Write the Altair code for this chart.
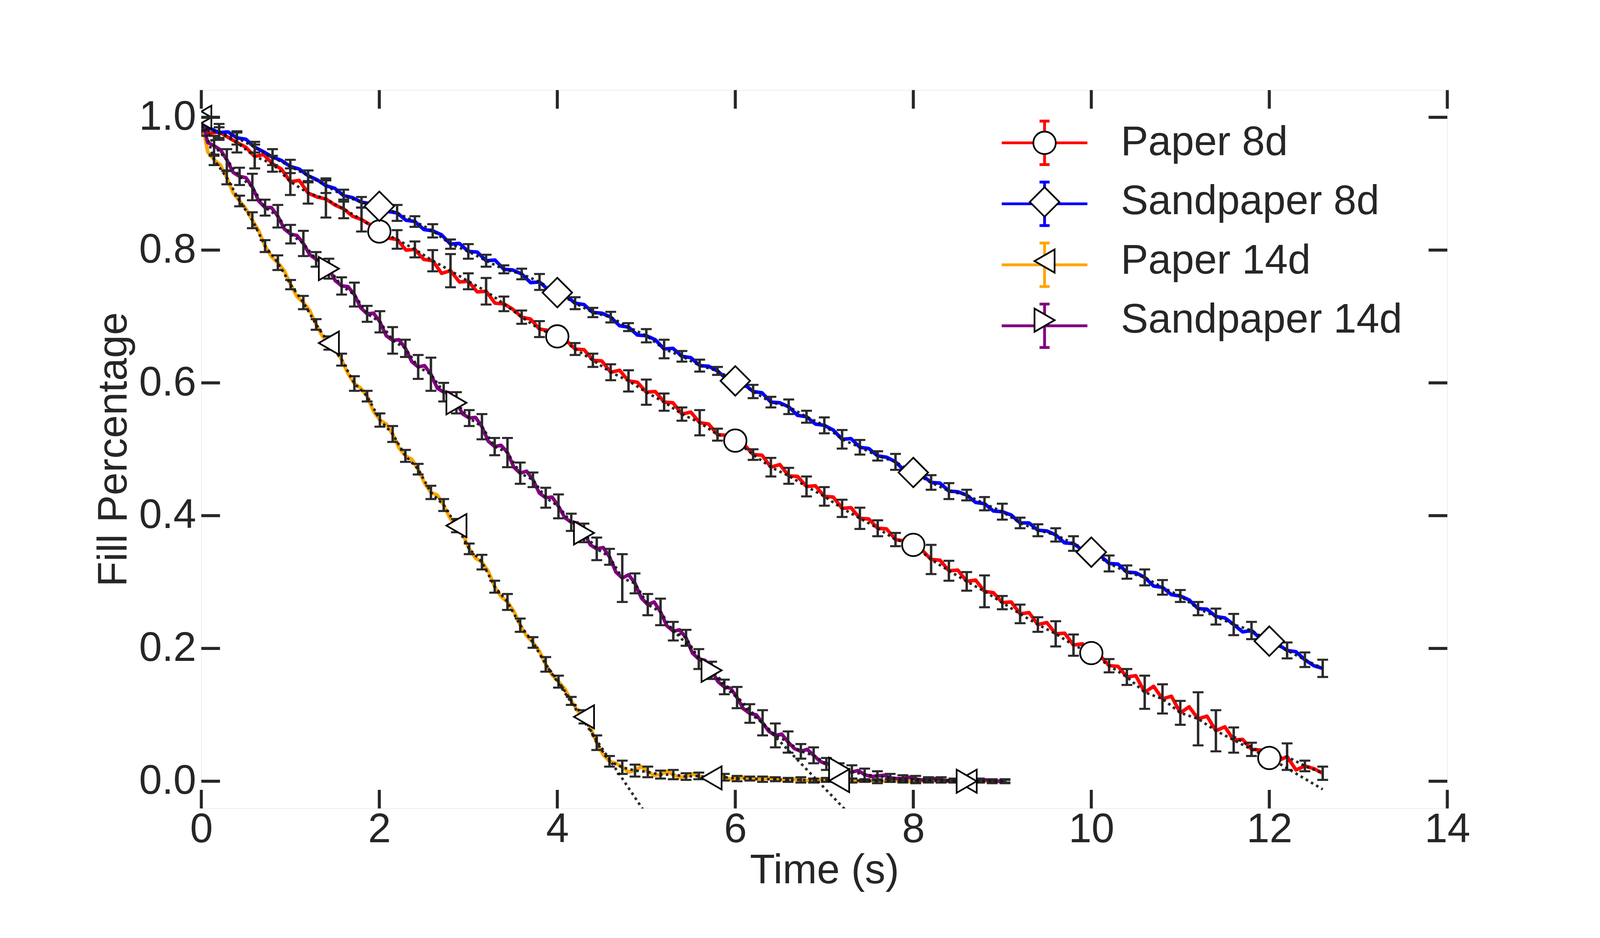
import altair as alt
import numpy as np
import pandas as pd

SERIES = ["Paper 8d", "Sandpaper 8d", "Paper 14d", "Sandpaper 14d"]
COLORS = ["#ff0000", "#0000ff", "#ffa500", "#800080"]
SHAPES = ["circle", "diamond", "triangle-left", "triangle-right"]
SIZES = [3600, 6241, 3844, 3844]

X_TICKS = [0, 2, 4, 6, 8, 10, 12, 14]
Y_TICKS = [0.0, 0.2, 0.4, 0.6, 0.8, 1.0]
X_DOMAIN = [0, 14]
Y_DOMAIN = [-0.041, 1.041]

# sampling steps (s)
T8_STEP = 0.1
T14_STEP = 0.14333

PAPER_8D = [
    0.980, 0.976, 0.978, 0.970, 0.962, 0.955, 0.941, 0.944, 0.930, 0.922,
    0.903, 0.905, 0.886, 0.880, 0.877, 0.868, 0.862, 0.851, 0.846, 0.838,
    0.828, 0.818, 0.816, 0.800, 0.801, 0.786, 0.784, 0.765, 0.769, 0.752,
    0.753, 0.737, 0.738, 0.720, 0.719, 0.711, 0.699, 0.696, 0.681, 0.679,
    0.670, 0.664, 0.651, 0.650, 0.634, 0.633, 0.616, 0.619, 0.603, 0.601,
    0.586, 0.587, 0.571, 0.570, 0.553, 0.556, 0.540, 0.538, 0.522, 0.521,
    0.513, 0.507, 0.492, 0.491, 0.473, 0.477, 0.460, 0.459, 0.444, 0.445,
    0.429, 0.428, 0.411, 0.412, 0.396, 0.395, 0.381, 0.380, 0.364, 0.362,
    0.356, 0.348, 0.334, 0.333, 0.317, 0.318, 0.301, 0.303, 0.286, 0.284,
    0.269, 0.270, 0.252, 0.254, 0.236, 0.239, 0.222, 0.223, 0.205, 0.207,
    0.193, 0.189, 0.174, 0.173, 0.157, 0.159, 0.134, 0.143, 0.124, 0.128,
    0.103, 0.112, 0.094, 0.098, 0.076, 0.082, 0.062, 0.063, 0.048, 0.047,
    0.035, 0.031, 0.037, 0.017, 0.023, 0.019, 0.012,
]
SAND_8D = [
    0.986, 0.983, 0.977, 0.978, 0.969, 0.967, 0.955, 0.948, 0.940, 0.935,
    0.926, 0.922, 0.912, 0.906, 0.897, 0.893, 0.882, 0.879, 0.872, 0.870,
    0.866, 0.858, 0.856, 0.845, 0.843, 0.831, 0.829, 0.823, 0.809, 0.810,
    0.798, 0.797, 0.784, 0.785, 0.771, 0.770, 0.764, 0.751, 0.752, 0.740,
    0.736, 0.731, 0.720, 0.718, 0.706, 0.705, 0.699, 0.686, 0.684, 0.672,
    0.671, 0.665, 0.651, 0.652, 0.640, 0.638, 0.626, 0.625, 0.618, 0.606,
    0.603, 0.598, 0.587, 0.585, 0.571, 0.570, 0.564, 0.551, 0.549, 0.538,
    0.536, 0.529, 0.515, 0.516, 0.503, 0.501, 0.490, 0.488, 0.481, 0.468,
    0.465, 0.461, 0.450, 0.449, 0.437, 0.436, 0.431, 0.420, 0.418, 0.407,
    0.406, 0.401, 0.389, 0.389, 0.378, 0.377, 0.371, 0.359, 0.358, 0.348,
    0.345, 0.340, 0.328, 0.327, 0.315, 0.314, 0.307, 0.294, 0.292, 0.281,
    0.279, 0.273, 0.260, 0.259, 0.248, 0.246, 0.236, 0.225, 0.227, 0.215,
    0.211, 0.206, 0.197, 0.195, 0.183, 0.174, 0.170,
]
PAPER_8D_ERR = [
    0.008, 0.012, 0.015, 0.018, 0.012, 0.020, 0.016, 0.028, 0.014, 0.018,
    0.012, 0.014, 0.012, 0.016, 0.025, 0.012, 0.020, 0.011, 0.010, 0.012,
    0.010, 0.009, 0.010, 0.012, 0.016, 0.019, 0.013, 0.010, 0.019, 0.009,
    0.010, 0.008, 0.014, 0.012, 0.015, 0.014, 0.013, 0.016, 0.012, 0.010,
    0.012, 0.022, 0.015, 0.014, 0.024, 0.010, 0.014, 0.011, 0.019, 0.016,
    0.012, 0.010, 0.012, 0.025, 0.022, 0.018, 0.040, 0.031, 0.019, 0.010,
    0.012, 0.020, 0.008, 0.010,
]
SAND_8D_ERR = [
    0.006, 0.008, 0.010, 0.008, 0.012, 0.010, 0.008, 0.011, 0.009, 0.008,
    0.010, 0.012, 0.008, 0.010, 0.007, 0.011, 0.009, 0.006, 0.008, 0.012,
    0.010, 0.009, 0.007, 0.008, 0.006, 0.010, 0.014, 0.008, 0.009, 0.006,
    0.012, 0.010, 0.008, 0.011, 0.009, 0.012, 0.014, 0.011, 0.007, 0.012,
    0.010, 0.011, 0.012, 0.008, 0.010, 0.012, 0.008, 0.009, 0.010, 0.011,
    0.010, 0.012, 0.010, 0.012, 0.011, 0.009, 0.010, 0.012, 0.016, 0.013,
    0.010, 0.012, 0.011, 0.013,
]
PAPER_14D = [
    1.000, 0.936, 0.909, 0.874, 0.845, 0.806, 0.781, 0.748, 0.721, 0.688,
    0.660, 0.635, 0.599, 0.580, 0.544, 0.523, 0.490, 0.470, 0.435, 0.416,
    0.385, 0.350, 0.330, 0.293, 0.270, 0.235, 0.209, 0.176, 0.150, 0.121,
    0.097, 0.058, 0.030, 0.021, 0.016, 0.014, 0.010, 0.010, 0.007, 0.008,
    0.005, 0.006, 0.004, 0.004, 0.003, 0.003, 0.002, 0.002, 0.001, 0.002,
    0.001, 0.001, 0.001, 0.000, 0.001, 0.000, 0.000, 0.001, 0.000, 0.000,
    0.000, 0.000, 0.000, 0.000,
]
# readings half-way between the samples above
PAPER_14D_MID = [
    0.948, 0.928, 0.886, 0.862, 0.829, 0.790, 0.769, 0.730, 0.709, 0.670,
    0.652, 0.614, 0.592, 0.557, 0.538, 0.502, 0.485, 0.449, 0.431, 0.396,
    0.372, 0.336, 0.316, 0.278, 0.256, 0.219, 0.196, 0.160, 0.139, 0.106,
    0.081, 0.040, 0.027, 0.014, 0.022, 0.009, 0.015, 0.006, 0.011, 0.004,
    0.008, 0.003, 0.006, 0.003, 0.005, 0.002, 0.003, 0.001, 0.003, 0.001,
    0.002, 0.000, 0.001, 0.000, 0.001, 0.000, 0.000, 0.001, 0.000, 0.000,
    0.001, 0.000, 0.000,
]
SAND_14D = [
    1.000, 0.957, 0.936, 0.911, 0.895, 0.864, 0.851, 0.824, 0.810, 0.786,
    0.772, 0.746, 0.733, 0.704, 0.692, 0.664, 0.652, 0.624, 0.613, 0.586,
    0.570, 0.547, 0.534, 0.504, 0.495, 0.464, 0.454, 0.427, 0.414, 0.390,
    0.374, 0.350, 0.338, 0.306, 0.298, 0.266, 0.255, 0.226, 0.216, 0.184,
    0.167, 0.142, 0.126, 0.102, 0.088, 0.069, 0.059, 0.045, 0.039, 0.026,
    0.018, 0.014, 0.010, 0.008, 0.005, 0.004, 0.003, 0.002, 0.002, 0.001,
    0.000, 0.001, 0.000, 0.000,
]
SAND_14D_MID = [
    0.962, 0.951, 0.917, 0.909, 0.874, 0.864, 0.832, 0.822, 0.793, 0.785,
    0.754, 0.745, 0.713, 0.705, 0.671, 0.665, 0.632, 0.626, 0.592, 0.585,
    0.553, 0.548, 0.512, 0.506, 0.473, 0.467, 0.434, 0.428, 0.397, 0.389,
    0.356, 0.352, 0.315, 0.311, 0.276, 0.270, 0.234, 0.228, 0.193, 0.182,
    0.150, 0.140, 0.109, 0.100, 0.075, 0.071, 0.049, 0.048, 0.030, 0.027,
    0.013, 0.016, 0.007, 0.009, 0.004, 0.006, 0.002, 0.004, 0.001, 0.003,
    0.000, 0.002, 0.000,
]
PAPER_14D_ERR = [
    0.006, 0.008, 0.010, 0.008, 0.012, 0.009, 0.011, 0.007, 0.010, 0.008,
    0.010, 0.009, 0.011, 0.008, 0.010, 0.012, 0.009, 0.008, 0.010, 0.009,
    0.010, 0.008, 0.011, 0.009, 0.012, 0.010, 0.008, 0.011, 0.009, 0.006,
    0.010, 0.011, 0.008, 0.010, 0.009, 0.008, 0.006, 0.007, 0.005, 0.005,
    0.004, 0.005, 0.004, 0.003, 0.004, 0.003, 0.003, 0.004, 0.003, 0.003,
    0.003, 0.003, 0.002, 0.003, 0.002, 0.002, 0.003, 0.002, 0.002, 0.002,
    0.002, 0.002, 0.002, 0.002,
]
SAND_14D_ERR = [
    0.008, 0.015, 0.016, 0.013, 0.020, 0.012, 0.017, 0.014, 0.019, 0.011,
    0.015, 0.013, 0.018, 0.012, 0.016, 0.020, 0.013, 0.018, 0.025, 0.014,
    0.016, 0.012, 0.019, 0.013, 0.022, 0.016, 0.011, 0.015, 0.018, 0.013,
    0.014, 0.017, 0.012, 0.036, 0.015, 0.016, 0.020, 0.014, 0.012, 0.015,
    0.013, 0.011, 0.016, 0.014, 0.019, 0.018, 0.016, 0.011, 0.012, 0.009,
    0.009, 0.010, 0.009, 0.007, 0.006, 0.005, 0.005, 0.004, 0.004, 0.003,
    0.003, 0.003, 0.003, 0.003,
]

# linear fits (dotted extrapolations): y = a - b t
FIT_SERIES = ["Paper 8d", "Paper 14d", "Sandpaper 14d"]
FIT_A = [0.987, 0.95, 0.97]
FIT_B = [0.0793, 0.20, 0.14]
FIT_T = [[11.6, 12.6], [3.9, 5.3], [5.3, 7.6]]

# ---------------------------------------------------------------- tables
line_rows, err_rows, mark_rows = [], [], []


def add_series(name, vals, errs, step, err_every, mark_idx, mids=None):
    t = np.arange(len(vals)) * step
    for i, v in enumerate(vals):
        line_rows.append({"series": name, "t": float(t[i]), "y": v})
    if mids is not None:
        for i, v in enumerate(mids):
            line_rows.append({"series": name, "t": float(t[i] + step / 2), "y": v})
    for j, i in enumerate(range(0, len(vals), err_every)):
        err_rows.append({"series": name, "t": float(t[i]), "y": vals[i],
                         "lo": vals[i] - errs[j], "hi": vals[i] + errs[j]})
    for i in mark_idx:
        mark_rows.append({"name": name, "t": float(t[i]), "y": vals[i]})


add_series("Paper 8d", PAPER_8D, PAPER_8D_ERR, T8_STEP, 2, range(20, 127, 20))
add_series("Sandpaper 8d", SAND_8D, SAND_8D_ERR, T8_STEP, 2, range(20, 127, 20))
add_series("Paper 14d", PAPER_14D, PAPER_14D_ERR, T14_STEP, 1, range(0, 64, 10), PAPER_14D_MID)
add_series("Sandpaper 14d", SAND_14D, SAND_14D_ERR, T14_STEP, 1, range(0, 64, 10), SAND_14D_MID)

line_df = pd.DataFrame(line_rows)
err_df = pd.DataFrame(err_rows)
mark_df = pd.DataFrame(mark_rows)

fit_rows = []
for s, a, b, (t0, t1) in zip(FIT_SERIES, FIT_A, FIT_B, FIT_T):
    for t in (t0, t1):
        fit_rows.append({"series": s, "t": t, "y": a - b * t})
fit_df = pd.DataFrame(fit_rows)

# tick tables (inward ticks on all 4 sides)
TICK_LEN_X = 0.21   # data units along x for y ticks
TICK_LEN_Y = 0.028  # data units along y for x ticks
xt_bottom = pd.DataFrame({"x": X_TICKS, "y": Y_DOMAIN[0], "y2": Y_DOMAIN[0] + TICK_LEN_Y})
xt_top = pd.DataFrame({"x": X_TICKS, "y": Y_DOMAIN[1] - TICK_LEN_Y, "y2": Y_DOMAIN[1]})
yt_left = pd.DataFrame({"y": Y_TICKS, "x": X_DOMAIN[0], "x2": X_DOMAIN[0] + TICK_LEN_X})
yt_right = pd.DataFrame({"y": Y_TICKS, "x": X_DOMAIN[1] - TICK_LEN_X, "x2": X_DOMAIN[1]})

# ---------------------------------------------------------------- styling
FONT = "Liberation Sans"
TXT = "#262626"
FS = 110

xs = alt.Scale(domain=X_DOMAIN, nice=False, zero=False)
ys = alt.Scale(domain=Y_DOMAIN, nice=False, zero=False)
x_axis = alt.Axis(values=X_TICKS, format="d", tickSize=0, domain=False, grid=False,
                  labelFlush=False, labelOverlap=False,
                  labelFont=FONT, labelFontSize=FS, labelColor=TXT, labelPadding=3,
                  title="Time (s)", titleFont=FONT, titleFontSize=FS, titleColor=TXT,
                  titleFontWeight="normal", titleY=200, titleBaseline="alphabetic")
y_axis = alt.Axis(values=Y_TICKS, format=".1f", tickSize=0, domain=False, grid=False,
                  labelFlush=False, labelOverlap=False,
                  labelFont=FONT, labelFontSize=FS, labelColor=TXT, labelPadding=14,
                  title="Fill Percentage", titleFont=FONT, titleFontSize=FS, titleColor=TXT,
                  titleFontWeight="normal", titleX=-200, titleY=960,
                  titleBaseline="alphabetic", titleAlign="center", titleAngle=-90)


def X(field="t"):
    return alt.X(f"{field}:Q", scale=xs, axis=x_axis)


def Y(field="y"):
    return alt.Y(f"{field}:Q", scale=ys, axis=y_axis)


LEG_X, LEG_Y = 2200, 86
LEGEND_PATH = ("M-2.9,0L2.9,0M0,-1.47L0,1.47"
               "M-0.34,-1.47L0.34,-1.47M-0.34,1.47L0.34,1.47")
legend_lines = alt.Legend(title=None, orient="none", legendX=LEG_X, legendY=LEG_Y,
                          symbolType=LEGEND_PATH, symbolSize=6241, symbolStrokeWidth=7.5,
                          symbolFillColor="transparent",
                          labelFont=FONT, labelFontSize=FS, labelExpr="''",
                          labelOffset=149, rowPadding=15, padding=0, labelLimit=3000)
legend_marks = alt.Legend(title=None, orient="none", legendX=LEG_X, legendY=LEG_Y,
                          symbolFillColor="white",
                          symbolStrokeWidth=4.5, symbolOpacity=1,
                          labelFont=FONT, labelFontSize=FS, labelColor=TXT,
                          labelOffset=149, rowPadding=48, padding=0, labelLimit=3000)

lines = alt.Chart(line_df).mark_line(strokeWidth=9.5, strokeJoin="round", clip=True).encode(
    x=X(), y=Y(),
    color=alt.Color("series:N", sort=SERIES, scale=alt.Scale(range=COLORS), legend=legend_lines),
    order="t:Q",
)

ERR_COLOR = "#2a2a2a"
bars = alt.Chart(err_df).mark_rule(color=ERR_COLOR, strokeWidth=6.5, clip=True).encode(
    x=X(), y=Y("lo"), y2="hi:Q")
caps_lo = alt.Chart(err_df).mark_tick(color=ERR_COLOR, orient="horizontal", size=29,
                                      thickness=5.5, opacity=1, clip=True).encode(x=X(), y=Y("lo"))
caps_hi = alt.Chart(err_df).mark_tick(color=ERR_COLOR, orient="horizontal", size=29,
                                      thickness=5.5, opacity=1, clip=True).encode(x=X(), y=Y("hi"))

DOT = dict(color="#151515", strokeWidth=7, strokeDash=[7, 9], opacity=0.9, clip=True)
dotted = alt.Chart(err_df).mark_line(**DOT).encode(x=X(), y=Y(), detail="series:N", order="t:Q")
fits = alt.Chart(fit_df).mark_line(**DOT).encode(x=X(), y=Y(), detail="series:N", order="t:Q")

points = alt.Chart(mark_df).mark_point(filled=True, fill="white", stroke="black",
                                       strokeWidth=4.5, opacity=1, clip=True).encode(
    x=X(), y=Y(),
    shape=alt.Shape("name:N", scale=alt.Scale(domain=SERIES, range=SHAPES), legend=legend_marks),
    size=alt.Size("name:N", scale=alt.Scale(type="ordinal", domain=SERIES, range=SIZES),
                  legend=legend_marks),
)

TICK = dict(color=TXT, strokeWidth=8)
tb = alt.Chart(xt_bottom).mark_rule(**TICK).encode(x=X("x"), y=Y("y"), y2="y2:Q")
tt = alt.Chart(xt_top).mark_rule(**TICK).encode(x=X("x"), y=Y("y"), y2="y2:Q")
tl = alt.Chart(yt_left).mark_rule(**TICK).encode(x=X("x"), x2="x2:Q", y=Y("y"))
tr = alt.Chart(yt_right).mark_rule(**TICK).encode(x=X("x"), x2="x2:Q", y=Y("y"))

chart = alt.layer(lines, bars, caps_lo, caps_hi, dotted, fits, points, tb, tt, tl, tr).properties(
    width=3332, height=1920,
    autosize=alt.AutoSizeParams(type="none"),
    padding={"left": 530, "top": 180, "right": 400, "bottom": 250},
    background="white",
).configure_view(stroke="#3a3a3a", strokeWidth=3).configure(font=FONT)

chart.save("out.html", embed_options={"renderer": "svg", "actions": False})
